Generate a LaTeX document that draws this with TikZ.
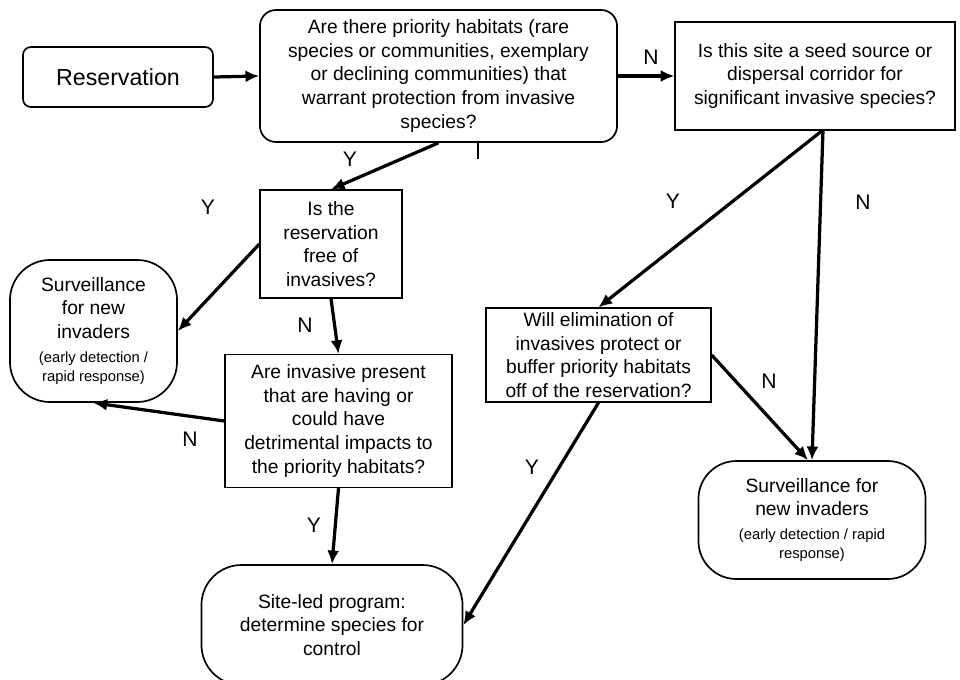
\documentclass[tikz,border=0pt]{standalone}
\usepackage{fontspec}
\setmainfont{Liberation Sans}
\usetikzlibrary{arrows.meta}
\newcommand{\smallnote}[1]{{\fontsize{10.5}{12.8}\selectfont #1}}

\begin{document}
\begin{tikzpicture}[
    x=0.025cm, y=-0.025cm,
    box/.style={draw, align=center, inner sep=2pt, font=\fontsize{13.7}{16.8}\selectfont},
    question/.style={box, line width=0.9pt},
    terminal/.style={box, line width=1.2pt, rounded corners=#1},
    terminal/.default=8mm,
    arrow/.style={-{Latex[length=3.4mm,width=3mm]}, line width=2.3pt},
    answer/.style={font=\fontsize{15}{18}\selectfont, inner sep=0pt}
  ]
    \clip (0,0) rectangle (960,679);

    \node[terminal=2mm, minimum width=4.75cm, minimum height=1.5cm, font=\fontsize{16.5}{19}\selectfont] (reservation) at (118,77) {Reservation};
    \node[terminal=4mm, minimum width=8.925cm, minimum height=3.3cm] (habitats) at (438.5,76) {Are there priority habitats (rare\\species or communities, exemplary\\or declining communities) that\\warrant protection from invasive\\species?};
    \node[question, minimum width=7cm, minimum height=2.7cm] (seed) at (815,76) {Is this site a seed source or\\dispersal corridor for\\significant invasive species?};
    \node[question, minimum width=3.55cm, minimum height=2.7cm] (free) at (331,244) {Is the\\reservation\\free of\\invasives?};
    \node[terminal=10mm, minimum width=4.175cm, minimum height=3.55cm] (survleft) at (93.5,331) {Surveillance\\for new\\invaders\\\smallnote{(early detection /}\\[-3pt]\smallnote{rapid response)}};
    \node[question, minimum width=5.675cm, minimum height=3.325cm] (present) at (338.5,421) {Are invasive present\\that are having or\\could have\\detrimental impacts to\\the priority habitats?};
    \node[question, minimum width=5.625cm, minimum height=2.35cm, inner sep=0pt] (elim) at (598.5,355) {Will elimination of\\invasives protect or\\buffer priority habitats\\off of the reservation?};
    \node[terminal=9.5mm, minimum width=5.675cm, minimum height=2.95cm] (survright) at (812,520) {Surveillance for\\new invaders\\\smallnote{(early detection / rapid}\\[-3pt]\smallnote{response)}};
    \node[terminal=10mm, minimum width=6.525cm, minimum height=3cm] (siteled) at (332,625) {Site-led program:\\determine species for\\control};

    \coordinate (split) at (823,130);
    \coordinate (tick) at (478,143);

    \draw[arrow] (reservation.east) -- (habitats.west);
    \draw[arrow] (habitats.east) -- (seed.west);
    \draw[arrow] (habitats.south) -- (free.north);
    \draw[arrow] (free.west) -- (survleft.east);
    \draw[arrow] (free.south) -- (present.north);
    \draw[arrow] (present.west) -- (survleft.south);
    \draw[arrow] (present.south) -- (siteled.north);
    \draw[arrow] (split) -- (elim.north);
    \draw[arrow] (split) -- (survright.north);
    \draw[arrow] (elim.east) -- ([xshift=-1mm]survright.north);
    \draw[arrow] (elim.south) -- (siteled.east);
    \draw[line width=1.5pt] (tick) -- ++(0,16);

    \node[answer] (nseed) at (651,57) {N};
    \node[answer] (yfree) at (350,159) {Y};
    \node[answer] (yclean) at (208,207) {Y};
    \node[answer] (nfree) at (305,325) {N};
    \node[answer] (npresent) at (190,439) {N};
    \node[answer] (ypresent) at (314,525) {Y};
    \node[answer] (yelim) at (673,201) {Y};
    \node[answer] (nsource) at (863,202) {N};
    \node[answer] (nelim) at (769,381) {N};
    \node[answer] (ybuffer) at (532,467) {Y};
  \end{tikzpicture}
\end{document}
